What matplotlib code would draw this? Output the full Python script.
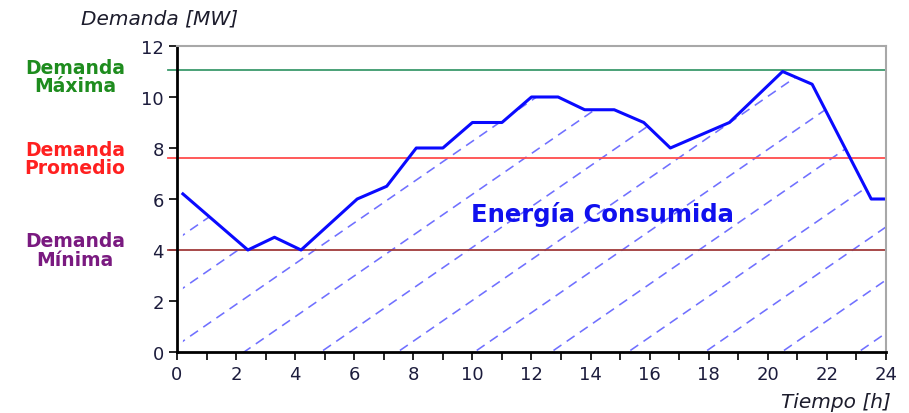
import matplotlib.pyplot as plt
import numpy as np
from matplotlib.patches import Polygon

# load curve
hours = [0.2, 2.4, 3.3, 4.2, 6.1, 7.1, 8.1, 9.0, 10.0, 11.0, 12.0, 12.9,
         13.8, 14.8, 15.8, 16.7, 18.7, 20.5, 21.5, 23.5, 24.0]
demand = [6.2, 4.0, 4.5, 4.0, 6.0, 6.5, 8.0, 8.0, 9.0, 9.0, 10.0, 10.0,
          9.5, 9.5, 9.0, 8.0, 9.0, 11.0, 10.5, 6.0, 6.0]

level_names = ["Demanda\nMáxima", "Demanda\nPromedio", "Demanda\nMínima"]
level_values = [11.05, 7.6, 4.0]
level_line_colors = ["#3c9a6c", "#ff4c4c", "#a03a3a"]
level_text_colors = ["#1e8c1e", "#ff2020", "#7a1a80"]

x_ticks = np.arange(0, 25, 2)
y_ticks = np.arange(0, 13, 2)

fig = plt.figure(figsize=(9.09, 4.14), dpi=100)
ax = fig.add_axes([0.1947, 0.1473, 0.78, 0.7392])

ax.set_xlim(0, 24)
ax.set_ylim(0, 12)

# hatch under the curve: dashed diagonals clipped to the area
area = Polygon(np.column_stack([hours + [hours[-1], hours[0]],
                                demand + [0, 0]]),
               closed=True, facecolor="none", edgecolor="none")
ax.add_patch(area)
slope = 0.80
for x0 in np.arange(4.87 - 2.6 * 5, 24, 2.6):
    xs = np.array([0, 24])
    ln, = ax.plot(xs, slope * (xs - x0), color="#7070ff", lw=1.15,
                  dashes=(6, 4))
    ln.set_clip_path(area)

# reference levels
for val, lc in zip(level_values, level_line_colors):
    ax.plot([-0.012, 1.0], [val, val], color=lc, lw=1.3,
            transform=ax.get_yaxis_transform(), clip_on=False)

for name, val, tc in zip(level_names, level_values, level_text_colors):
    ty = val - 0.25 if val > 10 else val
    ax.text(-0.144, ty, name, color=tc, fontsize=13.5, fontweight="bold",
            ha="center", va="center", linespacing=0.95,
            transform=ax.get_yaxis_transform())

ax.plot(hours, demand, color="#0a0aff", lw=2.2, solid_joinstyle="round")

ax.text(14.4, 5.45, "Energía Consumida", color="#1010ee", fontsize=17.5,
        fontweight="bold", ha="center", va="center")

# axes styling
for s in ["left", "bottom"]:
    ax.spines[s].set_color("black")
    ax.spines[s].set_linewidth(2)
for s in ["top", "right"]:
    ax.spines[s].set_color("#a8a8a8")
    ax.spines[s].set_linewidth(1.5)

ax.set_xticks(x_ticks)
ax.set_xticks(np.arange(0, 25, 1), minor=True)
ax.set_yticks(y_ticks)
ax.tick_params(axis="both", direction="out", length=6, width=1.2,
               colors="black", labelcolor="#1c1c3c", labelsize=13)
ax.tick_params(axis="x", which="minor", direction="out", length=6, width=1.2)

fig.text(160 / 909, 1 - 19 / 414, "Demanda [MW]", fontsize=14.5, style="italic",
         color="#1c1c2c", ha="center", va="center")
fig.text(836 / 909, 1 - 403 / 414, "Tiempo [h]", fontsize=14.5, style="italic",
         color="#1c1c2c", ha="center", va="center")

fig.savefig("out.png", dpi=100)
